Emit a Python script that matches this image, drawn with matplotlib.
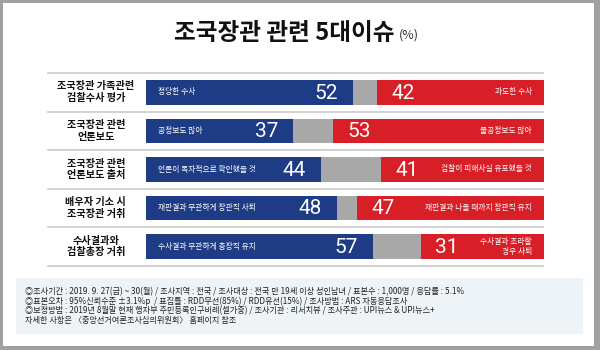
import matplotlib
matplotlib.use("Agg")
import matplotlib.pyplot as plt
from matplotlib.patches import Rectangle

plt.rcParams['font.family'] = ['Noto Sans CJK KR', 'DejaVu Sans']

# data
categories = ['조국장관 가족관련\n검찰수사 평가', '조국장관 관련\n언론보도',
              '조국장관 관련\n언론보도 출처', '배우자 기소 시\n조국장관 거취',
              '수사결과와\n검찰총장 거취']
pos_vals = [52, 37, 44, 48, 57]
neg_vals = [42, 53, 41, 47, 31]
pos_labels = ['정당한 수사', '공정보도 많아', '언론이 독자적으로 확인했을 것',
              '재판결과 무관하게 장관직 사퇴', '수사결과 무관하게 총장직 유지']
neg_labels = ['과도한 수사', '불공정보도 많아', '검찰이 피해사실 유포했을 것',
              '재판결과 나올 때까지 장관직 유지', '수사결과 초라할\n경우 사퇴']
notes = ['◎조사기간 : 2019. 9. 27(금) ~ 30(월) / 조사지역 : 전국 / 조사대상 : 전국 만 19세 이상 성인남녀 / 표본수 : 1,000명 / 응답률 : 5.1%',
         '◎표본오차 : 95%신뢰수준 ±3.1%p  / 표집틀 : RDD무선(85%) / RDD유선(15%) / 조사방법 : ARS 자동응답조사',
         '◎보정방법 : 2019년 8월말 현재 행자부 주민등록인구비례(셀가중) / 조사기관 : 리서치뷰 / 조사주관 : UPI뉴스 & UPI뉴스+',
         '자세한 사항은 〈중앙선거여론조사심의위원회〉 홈페이지 참조']

blue = '#1d3c85'
red = '#d81e26'
grey = '#a8a8a8'
numfont = ['Liberation Sans Narrow', 'Roboto', 'DejaVu Sans']

W, H = 600, 350
fig = plt.figure(figsize=(6, 3.5), dpi=100, facecolor='#a0a0a0')
def fx(x): return x / W
def fy(y): return 1 - y / H

# white panel inside gray frame
fig.add_artist(Rectangle((fx(3), fy(346)), fx(591), 343 / H, transform=fig.transFigure,
                         facecolor='white', edgecolor='none', zorder=0))

fig.text(fx(395), fy(33), '조국장관 관련 5대이슈', ha='right', va='center',
         fontsize=17, fontweight='heavy', color='#111111')
fig.text(fx(399), fy(35), '(%)', ha='left', va='center', fontsize=9, color='#333333')

ax = fig.add_axes([fx(146), fy(266), 398 / W, 193 / H])
ax.set_xlim(0, 100)
ax.set_ylim(4.5, -0.5)
ax.axis('off')

ys = list(range(len(categories)))
gray_vals = [100 - p - n for p, n in zip(pos_vals, neg_vals)]
left_gray = pos_vals
left_red = [p + g for p, g in zip(pos_vals, gray_vals)]
h = 0.64
ax.barh(ys, pos_vals, height=h, color=blue)
ax.barh(ys, gray_vals, left=left_gray, height=h, color=grey)
ax.barh(ys, neg_vals, left=left_red, height=h, color=red)

tr = ax.get_yaxis_transform()
for y in [-0.5, 0.5, 1.5, 2.5, 3.5, 4.5]:
    ax.plot([-0.246, 0.997], [y, y], transform=tr, clip_on=False,
            color='#cfcfcf', lw=1.3)

for i in ys:
    ax.text(-0.126, i, categories[i], transform=tr, ha='center', va='center',
            fontsize=7.3, fontweight='heavy', color='#111111', linespacing=1.2)
    ax.text(pos_vals[i] - 3.8, i + 0.02, str(pos_vals[i]), ha='right', va='center',
            fontsize=15, color='white', family=numfont)
    ax.text(left_red[i] + 3.6, i + 0.02, str(neg_vals[i]), ha='left', va='center',
            fontsize=15, color='white', family=numfont)
    ax.text(3, i, pos_labels[i], ha='left', va='center', fontsize=5.6, color='white')
    ax.text(97, i, neg_labels[i], ha='right', va='center', fontsize=5.6,
            color='white', linespacing=1.3)

# footer box
fig.add_artist(Rectangle((fx(16), fy(334)), fx(567), 56 / H, transform=fig.transFigure,
                         facecolor='#edf3f7', edgecolor='none', zorder=0.5))
for k, line in enumerate(notes):
    fig.text(fx(25), fy(292 + 9.5 * k), line, ha='left', va='center',
             fontsize=5.9, color='#222222')

fig.savefig('out.png', dpi=100, facecolor=fig.get_facecolor())
